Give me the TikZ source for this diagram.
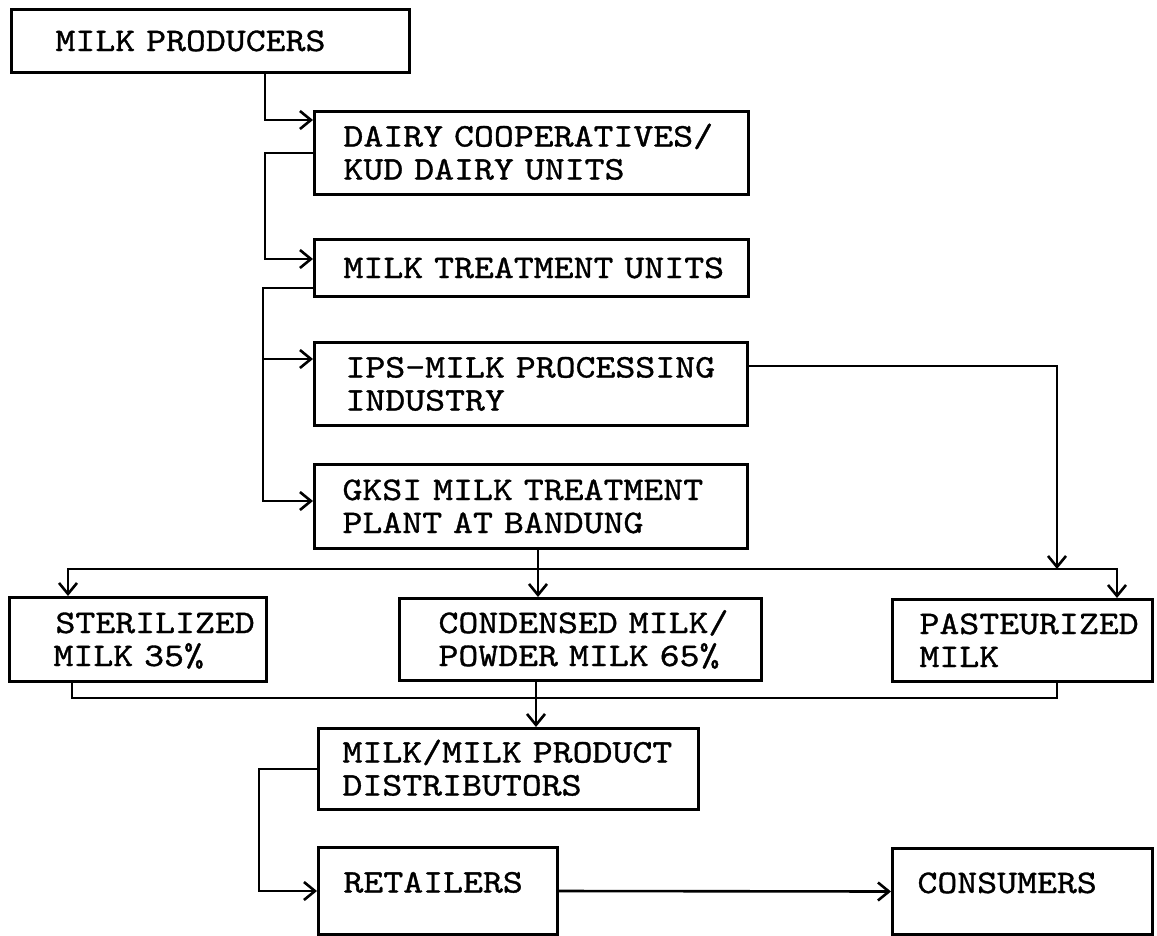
\documentclass[tikz,border=0pt]{standalone}
\usepackage{fontspec}
\usetikzlibrary{arrows.meta,calc}
% typewriter face, widened a little and given some weight
\newfontfamily\twfont{lmmono10-regular.otf}[FakeStretch=1.15,FakeBold=1]
% one indented line of box text
\newcommand\iline[2]{\hspace*{#1pt}#2}

\begin{document}
\begin{tikzpicture}[x=1pt,y=-1pt,
  box/.style={draw, line width=3pt, anchor=north west, inner xsep=0pt, inner ysep=0pt,
    align=left, font=\twfont\fontsize{33}{33}\selectfont, text height=20pt, text depth=0pt},
  two/.style={text depth=33pt},
  link/.style={line width=2.6pt},
  tip/.tip={Straight Barb[length=11pt,width=18pt]},
  arr/.style={link, -tip},
  arrboth/.style={link, tip-tip},
]
\useasboundingbox (0,0) rectangle (1157,935);

% boxes
\node[box, text width=398pt, minimum height=63pt] (prod) at (10,8) {\iline{44}{MILK PRODUCERS}};
\node[box, two, text width=434pt, minimum height=83pt] (dairy) at (313,110) {\iline{29}{DAIRY COOPERATIVES/}\\\iline{29}{KUD DAIRY UNITS}};
\node[box, text width=434pt, minimum height=57pt] (mtu) at (313,238) {\iline{29}{MILK TREATMENT UNITS}};
\node[box, two, text width=433pt, minimum height=83pt] (ips) at (313,341) {\iline{31}{IPS-MILK PROCESSING}\\\iline{31}{INDUSTRY}};
\node[box, two, text width=433pt, minimum height=84pt] (gksi) at (313,463) {\iline{28}{GKSI MILK TREATMENT}\\\iline{28}{PLANT AT BANDUNG}};
\node[box, two, text width=257pt, minimum height=84pt] (ster) at (8,596) {\iline{46}{STERILIZED}\\\iline{44}{MILK 35\%}};
\node[box, two, text width=362pt, minimum height=82pt] (cond) at (398,597) {\iline{39}{CONDENSED MILK/}\\\iline{39}{POWDER MILK 65\%}};
\node[box, two, text width=260pt, minimum height=82pt] (past) at (891,598) {\iline{27}{PASTEURIZED}\\\iline{27}{MILK}};
\node[box, two, text width=380pt, minimum height=81pt] (dist) at (317,727) {\iline{24}{MILK/MILK PRODUCT}\\\iline{24}{DISTRIBUTORS}};
\node[box, text depth=17pt, text width=239pt, minimum height=87pt] (ret) at (317,846) {\iline{25}{RETAILERS}};
\node[box, text depth=17pt, text width=260pt, minimum height=86pt] (cons) at (891,847) {\iline{25}{CONSUMERS}};

% trunk and bus positions
\coordinate (xa) at (265,0);
\coordinate (xb) at (263,0);
\coordinate (xs) at (68,0);
\coordinate (xt) at (72,0);
\coordinate (xc) at (538,0);
\coordinate (xd) at (536,0);
\coordinate (xv) at (1057,0);
\coordinate (xp) at (1117,0);
\coordinate (xr) at (259,0);
\coordinate (yu) at (0,569);
\coordinate (yl) at (0,698);

% ports on the box sides
\coordinate (dairy-in) at ($(dairy.north west)+(0,10)$);
\coordinate (mtu-in) at ($(mtu.north west)+(0,21)$);
\coordinate (mtu-out) at ($(mtu.south west)+(0,-10)$);
\coordinate (ips-in) at ($(ips.north west)+(0,18)$);
\coordinate (ips-out) at ($(ips.north east)+(0,25)$);
\coordinate (gksi-in) at ($(gksi.north west)+(0,38)$);

% connectors
\draw[arr] (prod.south -| xa) |- (dairy-in);
\draw[arr] (dairy.west) -- (dairy.west -| xa) |- (mtu-in);
\draw[arr] (mtu-out) -- (mtu-out -| xb) |- (gksi-in);
\draw[arr] (xb |- ips-in) -- (ips-in);
\draw[arr] (ips-out) -| (xv |- yu);
\draw[arrboth] (ster.north -| xs) |- (yu -| xp) -- (past.north -| xp);
\draw[arr] (gksi.south -| xc) -- (cond.north -| xc);
\draw[link] (ster.south -| xt) |- (yl -| xv) -- (past.south -| xv);
\draw[arr] (cond.south -| xd) -- (dist.north -| xd);
\draw[arr] (dist.west) -- (dist.west -| xr) |- (ret.west);
\draw[arr] (ret.east) -- (cons.west);
\end{tikzpicture}
\end{document}
